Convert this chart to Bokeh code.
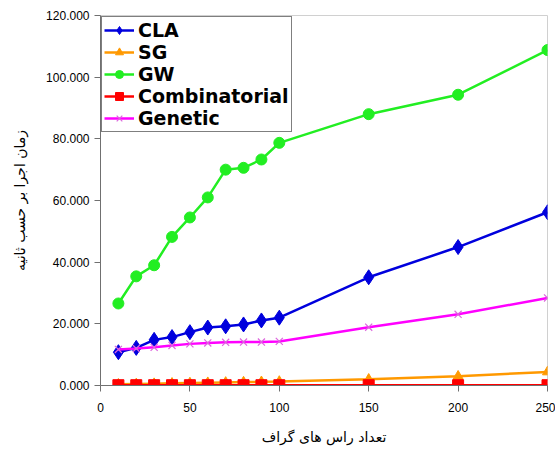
from bokeh.plotting import figure
from bokeh.embed import file_html
from bokeh.resources import INLINE
from bokeh.models import NumeralTickFormatter, FixedTicker, Range1d, Legend, LegendItem

x_vals = [10, 20, 30, 40, 50, 60, 70, 80, 90, 100, 150, 200, 250]
cla = [10.8, 12.2, 14.8, 15.7, 17.3, 18.8, 19.2, 19.8, 21.1, 22.0, 35.1, 44.9, 56.2]
sg = [0.4, 0.5, 0.6, 0.7, 0.8, 0.9, 1.0, 1.1, 1.2, 1.3, 2.0, 3.0, 4.4]
gw = [26.6, 35.4, 39.0, 48.2, 54.5, 61.0, 70.0, 70.6, 73.3, 78.7, 88.0, 94.3, 108.8]
comb = [0.1, 0.1, 0.1, 0.1, 0.1, 0.1, 0.1, 0.1, 0.1, 0.1, 0.1, 0.1, 0.1]
genetic = [11.7, 12.0, 12.4, 13.0, 13.5, 13.8, 14.0, 14.1, 14.1, 14.3, 18.9, 23.1, 28.4]
x_ticks = [0, 50, 100, 150, 200, 250]
y_ticks = [0, 20, 40, 60, 80, 100, 120]
series_names = ["CLA", "SG", "GW", "Combinatorial", "Genetic"]

p = figure(frame_width=447, frame_height=370, output_backend="svg", toolbar_location=None,
           x_range=Range1d(0, 250), y_range=Range1d(0, 120),
           min_border_left=100, min_border_right=8, min_border_top=15, min_border_bottom=10)

p.xgrid.visible = False
p.ygrid.visible = False
p.outline_line_color = "#d0d0d0"
p.outline_line_width = 1

for ax in (p.xaxis[0], p.yaxis[0]):
    ax.axis_line_color = "#707070"
    ax.major_tick_line_color = "#707070"
    ax.minor_tick_line_color = None
    ax.major_tick_in = 0
    ax.major_tick_out = 6
    ax.major_label_text_font = "Liberation Sans"
    ax.major_label_text_font_size = "12px"
    ax.major_label_text_color = "black"
    ax.axis_label_text_font = "DejaVu Sans"
    ax.axis_label_text_font_size = "14px"
    ax.axis_label_text_font_style = "normal"
    ax.axis_label_text_color = "black"

p.xaxis.ticker = FixedTicker(ticks=x_ticks)
p.yaxis.ticker = FixedTicker(ticks=y_ticks)
p.yaxis.formatter = NumeralTickFormatter(format="0.000")
p.xaxis.axis_label = "تعداد راس های گراف"
p.yaxis.axis_label = "زمان اجرا بر حسب ثانیه"
p.xaxis.major_label_standoff = 11
p.yaxis.major_label_standoff = 5
p.xaxis.axis_label_standoff = 14
p.yaxis.axis_label_standoff = 15

items = []
l1 = p.line(x_vals, cla, line_color="#0000dd", line_width=2.5)
m1 = p.scatter(x_vals, cla, marker="diamond", size=15, fill_color="#0000dd", line_color="#0000dd")
items.append(LegendItem(label=series_names[0], renderers=[l1, m1]))

l2 = p.line(x_vals, sg, line_color="#ff9900", line_width=2.5)
m2 = p.scatter(x_vals, sg, marker="triangle", size=10, fill_color="#ff9900", line_color="#ff9900")
items.append(LegendItem(label=series_names[1], renderers=[l2, m2]))

l3 = p.line(x_vals, gw, line_color="#22ee22", line_width=2.5)
m3 = p.scatter(x_vals, gw, marker="circle", size=11, fill_color="#22ee22", line_color="#22ee22")
items.append(LegendItem(label=series_names[2], renderers=[l3, m3]))

l4 = p.line(x_vals, comb, line_color="#ff0000", line_width=2.5)
m4 = p.scatter(x_vals, comb, marker="square", size=11, fill_color="#ff0000", line_color="#ff0000")
items.append(LegendItem(label=series_names[3], renderers=[l4, m4]))

l5 = p.line(x_vals, genetic, line_color="#ff00ff", line_width=2.5)
m5 = p.scatter(x_vals, genetic, marker="x", size=10, line_color="#dd66dd", line_width=1.2)
items.append(LegendItem(label=series_names[4], renderers=[l5, m5]))

legend = Legend(items=items, location="top_left")
legend.margin = 1
legend.padding = 2
legend.spacing = 0
legend.label_standoff = 4
legend.glyph_width = 30
legend.glyph_height = 20
legend.label_height = 20
legend.label_text_font = "DejaVu Sans"
legend.label_text_font_size = "19px"
legend.label_text_font_style = "bold"
legend.label_text_color = "black"
legend.border_line_color = "black"
legend.border_line_width = 1
legend.background_fill_color = "white"
legend.background_fill_alpha = 1
p.add_layout(legend)

open("out.html", "w").write(file_html(p, INLINE))
